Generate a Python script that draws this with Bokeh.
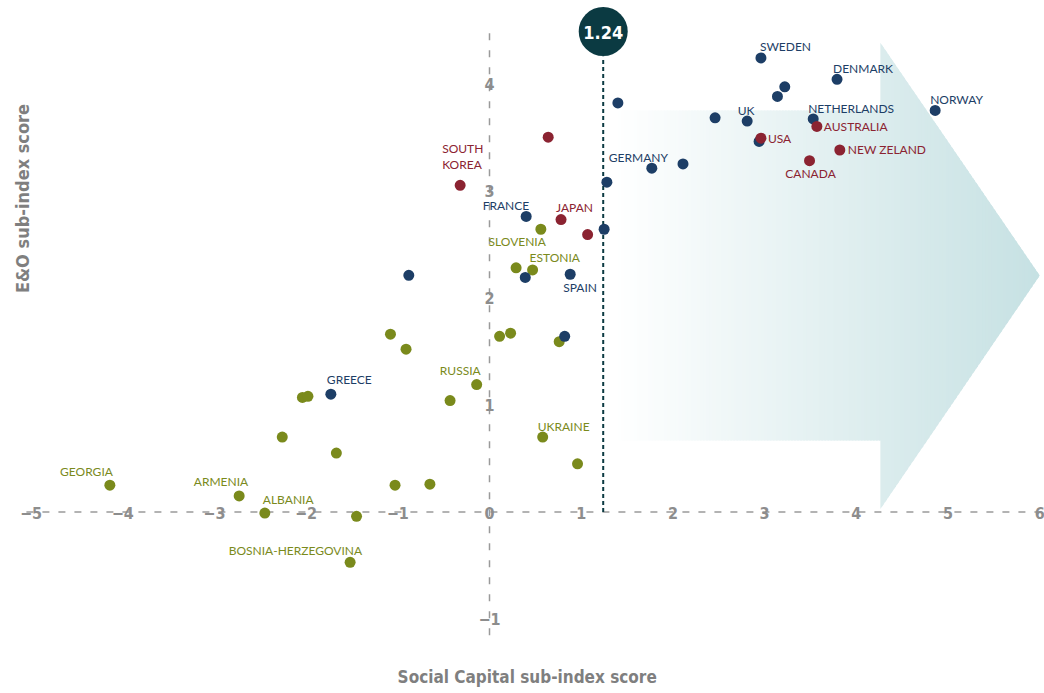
import numpy as np
from bokeh.plotting import figure
from bokeh.models import Range1d, ColumnDataSource
from bokeh.core.properties import value
from bokeh.embed import file_html
from bokeh.resources import INLINE

# ---------------- data ----------------
blue_names = ["SWEDEN", "DENMARK", "", "", "NORWAY", "", "", "UK", "NETHERLANDS", "",
              "GERMANY", "", "", "FRANCE", "", "", "", "SPAIN", "", "GREECE"]
blue_x = [2.96, 3.79, 3.22, 3.14, 4.86, 1.40, 2.46, 2.81, 3.53, 2.94,
          1.77, 2.11, 1.28, 0.40, 1.25, -0.88, 0.39, 0.88, 0.82, -1.73]
blue_y = [4.24, 4.04, 3.97, 3.88, 3.75, 3.82, 3.68, 3.65, 3.67, 3.46,
          3.21, 3.25, 3.08, 2.76, 2.64, 2.21, 2.19, 2.22, 1.64, 1.10]

red_names = ["AUSTRALIA", "USA", "NEW ZELAND", "CANADA", "", "SOUTH\nKOREA", "JAPAN", ""]
red_x = [3.57, 2.96, 3.82, 3.49, 0.64, -0.32, 0.78, 1.07]
red_y = [3.60, 3.49, 3.38, 3.28, 3.50, 3.05, 2.73, 2.59]

green_names = ["SLOVENIA", "", "ESTONIA", "", "", "", "", "", "RUSSIA", "", "", "", "", "",
               "UKRAINE", "", "", "", "", "ALBANIA", "ARMENIA", "GEORGIA", "BOSNIA-HERZEGOVINA"]
green_x = [0.56, 0.29, 0.47, -1.08, -0.91, 0.11, 0.23, 0.76, -0.14, -0.43, -2.04, -1.98, -2.26, -1.67,
           0.58, 0.96, -1.03, -0.65, -1.45, -2.45, -2.73, -4.14, -1.52]
green_y = [2.64, 2.28, 2.26, 1.66, 1.52, 1.64, 1.67, 1.59, 1.19, 1.04, 1.07, 1.08, 0.70, 0.55,
           0.70, 0.45, 0.25, 0.26, -0.04, -0.01, 0.15, 0.25, -0.47]

threshold = 1.24
threshold_label = "1.24"
x_ticks = [-5, -4, -3, -2, -1, 0, 1, 2, 3, 4, 5, 6]
y_ticks = [-1, 1, 2, 3, 4]
x_title = "Social Capital sub-index score"
y_title = "E&O sub-index score"

# ---------------- styles ----------------
BLUE, RED, GREEN = "#1d3e66", "#8b2331", "#7a8a1c"
TEAL = "#0b3a42"
GREY = "#8d8d8d"
LABEL_FONT = "Lato"
COND_FONT = "DejaVu Sans Condensed, Roboto, sans-serif"

# label placement: name -> (align, dx px, dy px; dy positive = down)
label_style = {
    "SWEDEN": ("left", -1, -11), "DENMARK": ("left", -4, -11), "NORWAY": ("left", -5, -11),
    "UK": ("center", -1, -11), "NETHERLANDS": ("left", -5, -10), "AUSTRALIA": ("left", 7, 0),
    "USA": ("left", 7, 0), "NEW ZELAND": ("left", 8, -1), "CANADA": ("center", 1, 13),
    "GERMANY": ("left", -43, -11), "JAPAN": ("left", -5, -12), "FRANCE": ("right", 3, -11),
    "SOUTH\nKOREA": ("left", -18, -29), "SLOVENIA": ("right", 5, 12), "ESTONIA": ("left", -3, -12),
    "SPAIN": ("left", -7, 13), "GREECE": ("left", -4, -15), "RUSSIA": ("right", 4, -14),
    "UKRAINE": ("left", -5, -11), "ALBANIA": ("left", -2, -14), "ARMENIA": ("right", 9, -14),
    "GEORGIA": ("right", 3, -14), "BOSNIA-HERZEGOVINA": ("right", 12, -12),
}

W, H = 1044, 693
XS, YS = 91.7, 107.1          # px per unit
OX, OY = 489.0, 511.5         # pixel position of the origin
x0 = -OX / XS
y1 = OY / YS
p = figure(width=W, height=H, x_range=Range1d(x0, x0 + W / XS), y_range=Range1d(y1 - H / YS, y1),
           output_backend="svg", toolbar_location=None, min_border=0, title=None)
p.axis.visible = False
p.grid.visible = False
p.outline_line_color = None
p.background_fill_color = "white"
p.border_fill_color = "white"

# ---------------- gradient arrow (decoration) ----------------
ax_left, ax_head, ax_tip = 1.37, 4.264, 6.0
body_lo, body_hi = 0.668, 3.749
head_lo, head_hi, tip_y = 0.030, 4.379, 2.208
c0 = np.array([255, 255, 255])
c1 = np.array([198, 225, 227])
n = 140
edges = np.linspace(ax_left, ax_tip, n + 1)
xs_list, ys_list, cols = [], [], []

def extent(xv):
    if xv <= ax_head:
        return body_lo, body_hi
    f = (ax_tip - xv) / (ax_tip - ax_head)
    return tip_y - (tip_y - head_lo) * f, tip_y + (head_hi - tip_y) * f

for i in range(n):
    a = edges[i]
    b = min(edges[i + 1] + (edges[1] - edges[0]) * 0.6, ax_tip)
    pts_x = [a]
    if a < ax_head < b:
        pts_x.append(ax_head)
        pts_x.append(ax_head + 1e-9)
    pts_x.append(b)
    top = [extent(v)[1] for v in pts_x]
    bot = [extent(v)[0] for v in pts_x]
    if a < ax_head < b:
        top[1] = body_hi
        bot[1] = body_lo
        top[2] = head_hi
        bot[2] = head_lo
    xs_list.append(pts_x + pts_x[::-1])
    ys_list.append(top + bot[::-1])
    t = ((a + b) / 2 - ax_left) / (ax_tip - ax_left)
    c = (c0 + (c1 - c0) * t).round().astype(int)
    cols.append("#%02x%02x%02x" % tuple(c))
p.patches(xs_list, ys_list, fill_color=cols, line_color=None)

# ---------------- axes through origin ----------------
p.segment(x0=[-5.05], y0=[0], x1=[6.05], y1=[0], line_color="#9a9a9a", line_width=1.5, line_dash="7 9")
p.segment(x0=[0], y0=[-1.15], x1=[0], y1=[4.49], line_color="#9a9a9a", line_width=1.5, line_dash="7 10")

tick_lbl = lambda v: str(v).replace("-", "\u2212")
p.text(x=x_ticks, y=[0] * len(x_ticks), text=[tick_lbl(v) for v in x_ticks],
       text_font=value(COND_FONT), text_font_style="bold", text_font_size="16px",
       text_color=GREY, text_align="center", text_baseline="middle", y_offset=1)
p.text(x=[0] * len(y_ticks), y=y_ticks, text=[tick_lbl(v) for v in y_ticks],
       text_font=value(COND_FONT), text_font_style="bold", text_font_size="16px",
       text_color=GREY, text_align="center", text_baseline="middle")

# ---------------- threshold line & badge ----------------
badge_y = (OY - 31) / YS
p.segment(x0=[threshold], y0=[0], x1=[threshold], y1=[4.25], line_color=TEAL,
          line_width=2, line_dash="4 3")
p.scatter(x=[threshold], y=[badge_y], size=49, fill_color=TEAL, line_color=None)
p.text(x=[threshold], y=[badge_y], text=[threshold_label], text_font=value(COND_FONT),
       text_font_style="bold", text_font_size="18px", text_color="white",
       text_align="center", text_baseline="middle", y_offset=1)

# ---------------- points ----------------
for xs_, ys_, col in [(green_x, green_y, GREEN), (blue_x, blue_y, BLUE), (red_x, red_y, RED)]:
    p.scatter(x=xs_, y=ys_, size=11, fill_color=col, line_color=None)

# ---------------- point labels ----------------
groups = {}
for names, xs_, ys_, col in [(green_names, green_x, green_y, GREEN), (blue_names, blue_x, blue_y, BLUE),
                             (red_names, red_x, red_y, RED)]:
    for nm, xv, yv in zip(names, xs_, ys_):
        if not nm:
            continue
        al, dx, dy = label_style[nm]
        g = groups.setdefault(al, dict(x=[], y=[], text=[], color=[], dx=[], dy=[]))
        g["x"].append(xv); g["y"].append(yv); g["text"].append(nm)
        g["color"].append(col); g["dx"].append(dx); g["dy"].append(dy)
for al, g in groups.items():
    src = ColumnDataSource(g)
    p.text(x="x", y="y", text="text", source=src, text_color="color", x_offset="dx", y_offset="dy",
           text_font=value(LABEL_FONT), text_font_size="12px", text_align=al, text_baseline="middle",
           text_line_height=1.1)

# ---------------- axis titles ----------------
p.text(x=[(526.7 - OX) / XS], y=[(OY - 676.0) / YS], text=[x_title], text_font=value(COND_FONT),
       text_font_style="bold", text_font_size="17px", text_color="#7f7f7f",
       text_align="center", text_baseline="middle")
p.text(x=[(21.7 - OX) / XS], y=[(OY - 198) / YS], text=[y_title], text_font=value(COND_FONT),
       text_font_style="bold", text_font_size="18px", text_color="#7f7f7f",
       text_align="center", text_baseline="middle", angle=np.pi / 2)

open("out.html", "w").write(file_html(p, INLINE))
